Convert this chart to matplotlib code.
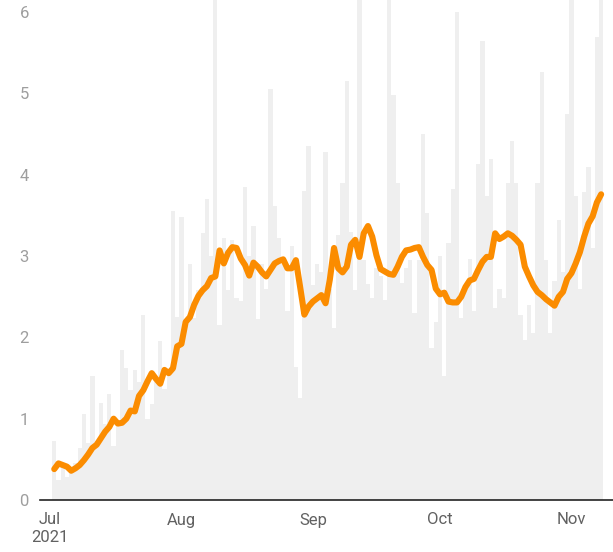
import matplotlib
matplotlib.use("Agg")
import matplotlib.pyplot as plt
import matplotlib.dates as mdates
import pandas as pd
import numpy as np

plt.rcParams['font.family'] = ['Roboto', 'DejaVu Sans']

start_date = "2021-07-02"

daily_values = [
    0.72, 0.25, 0.42, 0.28, 0.38, 0.45, 0.64, 1.06, 0.70, 1.52,
    0.72, 1.19, 0.93, 1.30, 0.67, 0.95, 1.84, 1.62, 1.35, 1.60,
    1.45, 2.27, 1.00, 1.18, 1.45, 1.96, 1.37, 1.60, 3.55, 2.25,
    3.48, 2.20, 2.90, 2.24, 2.58, 3.28, 3.70, 3.00, 6.30, 2.15,
    3.22, 2.58, 3.20, 2.48, 2.45, 3.85, 3.00, 3.37, 2.23, 2.90,
    2.60, 5.05, 3.62, 3.22, 2.90, 2.32, 3.12, 1.64, 1.25, 3.80,
    4.35, 2.64, 2.90, 2.80, 4.28, 2.60, 2.11, 3.26, 3.90, 5.15,
    3.30, 2.58, 6.30, 2.95, 2.66, 2.48, 2.85, 2.75, 2.46, 6.30,
    4.98, 3.90, 2.67, 2.85, 2.95, 2.30, 2.95, 4.50, 3.53, 1.87,
    2.19, 3.00, 1.52, 3.16, 3.82, 6.00, 2.24, 2.58, 2.96, 2.32,
    4.13, 5.65, 3.74, 4.20, 2.36, 2.60, 2.48, 3.90, 4.41, 3.90,
    2.28, 1.97, 2.40, 2.05, 3.90, 5.27, 2.95, 2.05, 2.69, 3.44,
    2.80, 4.75, 6.30, 3.74, 2.60, 3.79, 4.10, 3.10, 5.69, 6.30,
]

avg_values = [
    0.38, 0.45, 0.43, 0.41, 0.36, 0.39, 0.43, 0.49, 0.56, 0.64,
    0.68, 0.76, 0.84, 0.90, 1.00, 0.94, 0.95, 1.00, 1.10, 1.09,
    1.28, 1.35, 1.46, 1.56, 1.49, 1.43, 1.60, 1.56, 1.62, 1.89,
    1.92, 2.19, 2.25, 2.40, 2.51, 2.58, 2.63, 2.73, 2.75, 3.07,
    2.91, 3.04, 3.11, 3.10, 2.97, 2.89, 2.76, 2.92, 2.87, 2.80,
    2.75, 2.83, 2.91, 2.94, 2.96, 2.85, 2.85, 2.95, 2.62, 2.28,
    2.38, 2.44, 2.48, 2.52, 2.42, 2.71, 3.10, 2.85, 2.80, 2.87,
    3.14, 3.20, 2.99, 3.28, 3.37, 3.24, 3.01, 2.84, 2.81, 2.78,
    2.77, 2.87, 2.99, 3.07, 3.08, 3.10, 3.11, 2.99, 2.89, 2.83,
    2.60, 2.53, 2.55, 2.44, 2.43, 2.43, 2.50, 2.62, 2.70, 2.72,
    2.83, 2.93, 2.99, 2.99, 3.28, 3.21, 3.24, 3.28, 3.25, 3.20,
    3.14, 2.87, 2.75, 2.64, 2.56, 2.52, 2.47, 2.43, 2.39, 2.50,
    2.56, 2.72, 2.79, 2.91, 3.05, 3.24, 3.40, 3.49, 3.66, 3.76,
]

tick_dates = ["2021-07-01", "2021-08-01", "2021-09-01", "2021-10-01", "2021-11-01"]
tick_labels = ["Jul\n2021", "Aug", "Sep", "Oct", "Nov"]
y_ticks = [0, 1, 2, 3, 4, 5, 6]

dates = pd.date_range(start_date, periods=len(daily_values), freq="D")

W, H = 613, 552
fig = plt.figure(figsize=(W / 100, H / 100), dpi=100)
ax = fig.add_axes([40 / W, 52 / H, (W - 40) / W, 500 / H])

ax.bar(dates, daily_values, width=1.0, color="#efefef", linewidth=0, zorder=1)
ax.plot(dates, avg_values, color="#fb8c00", linewidth=4.4,
        solid_joinstyle="round", solid_capstyle="round", zorder=3)

x0 = mdates.date2num(pd.Timestamp("2021-07-01"))
ax.set_xlim(x0 - 2.36, x0 + 132.8)
ax.set_ylim(0, 6.15)

ax.set_xticks(pd.to_datetime(tick_dates))
ax.set_xticklabels(tick_labels, color="#616161", fontsize=12)
ax.set_yticks(y_ticks)
ax.set_yticklabels([str(v) for v in y_ticks], color="#9e9e9e", fontsize=12)
ax.tick_params(axis="x", length=0, pad=9)
ax.tick_params(axis="y", length=0, pad=8)

for s in ["top", "right", "left"]:
    ax.spines[s].set_visible(False)
ax.spines["bottom"].set_color("#222222")
ax.spines["bottom"].set_linewidth(1.2)
ax.spines["bottom"].set_zorder(4)

fig.savefig("out.png", dpi=100)
